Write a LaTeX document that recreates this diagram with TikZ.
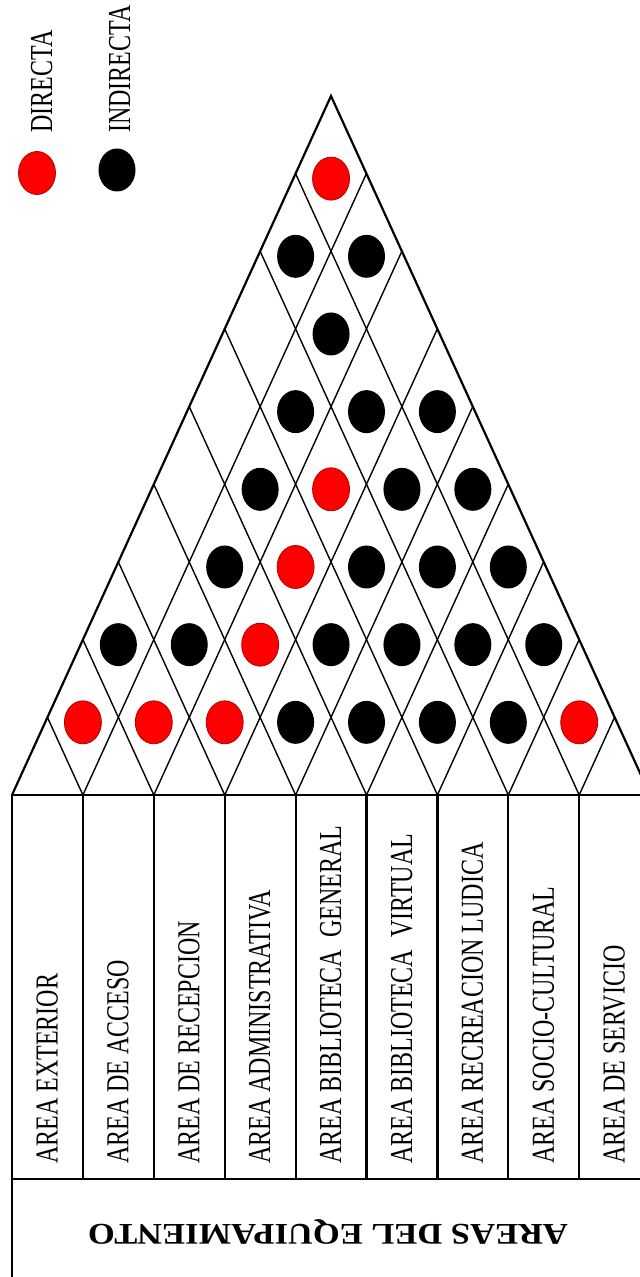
\documentclass[tikz,border=0pt]{standalone}
\usepackage{fontspec}
\setmainfont{Liberation Serif}
\usetikzlibrary{shapes.geometric}

\begin{document}
\begin{tikzpicture}[x=0.5pt, y=-0.5pt,
  frame/.style={line width=1.1pt},
  grid/.style={line width=0.7pt},
  dot/.style={ellipse, minimum width=18.5pt, minimum height=21.5pt, inner sep=0pt},
  directa/.style={dot, fill=red, draw=red!70!black, line width=0.4pt},
  indirecta/.style={dot, fill=black},
  area/.style={rotate=90, xscale=0.75, anchor=base west, inner sep=0pt, font=\fontsize{16}{18}\selectfont}
]
\useasboundingbox (0,0) rectangle (640,1277);
\clip (0,0) rectangle (640,1277);

\foreach \k in {0,...,9} \coordinate (b\k) at ({12+70.9*\k},795);
\coordinate (top) at (331,96);
\foreach \k in {1,...,8} {
  \coordinate (l\k) at ({12+35.45*\k},{795-77.67*\k});
  \coordinate (r\k) at ({650-35.45*\k},{795-77.67*\k});
}
\foreach \k [evaluate=\k as \m using int(9-\k)] in {1,...,8}
  \draw[grid] (l\k) -- (b\k) -- (r\m);
\draw[frame] (b0) -- (top) -- (b9);

\foreach \a/\d/\s in {0/1/directa, 1/1/directa, 2/1/directa, 3/1/indirecta,
    4/1/indirecta, 5/1/indirecta, 6/1/indirecta, 7/1/directa,
    0/2/indirecta, 1/2/indirecta, 2/2/directa, 3/2/indirecta, 4/2/indirecta,
    5/2/indirecta, 6/2/indirecta,
    1/3/indirecta, 2/3/directa, 3/3/indirecta, 4/3/indirecta, 5/3/indirecta,
    1/4/indirecta, 2/4/directa, 3/4/indirecta, 4/4/indirecta,
    1/5/indirecta, 2/5/indirecta, 3/5/indirecta,
    1/6/indirecta,
    0/7/indirecta, 1/7/indirecta,
    0/8/directa}
  \node[\s] (p\a-\d) at ({12+35.45*(2*\a+\d+1)},{795-77.67*\d+5}) {};

\foreach \k in {0,...,8}
  \draw[frame] (b\k) -- ++(0,384);
\draw[frame] (b0) -- (b9);
\draw[frame] (12,1179) rectangle (650,1300);

\foreach \k/\txt in {0/AREA EXTERIOR, 1/AREA DE ACCESO, 2/AREA DE RECEPCION,
    3/AREA ADMINISTRATIVA, 4/AREA BIBLIOTECA\ \ GENERAL,
    5/AREA BIBLIOTECA\ \ VIRTUAL, 6/AREA RECREACION LUDICA,
    7/AREA SOCIO-CULTURAL, 8/AREA DE SERVICIO}
  \node[area] (area\k) at ({12+70.9*\k+45.5},1164) {\txt};

\node[rotate=180, xscale=1.15, font=\bfseries\fontsize{15}{18}\selectfont] (title) at (328,1232) {AREAS DEL EQUIPAMIENTO};

\node[directa] (ldir) at (37,173) {};
\node[indirecta] (lind) at (117,170) {};
\node[area] (tdir) at (52,133) {DIRECTA};
\node[area] (tind) at (130,133) {INDIRECTA};
\end{tikzpicture}
\end{document}
